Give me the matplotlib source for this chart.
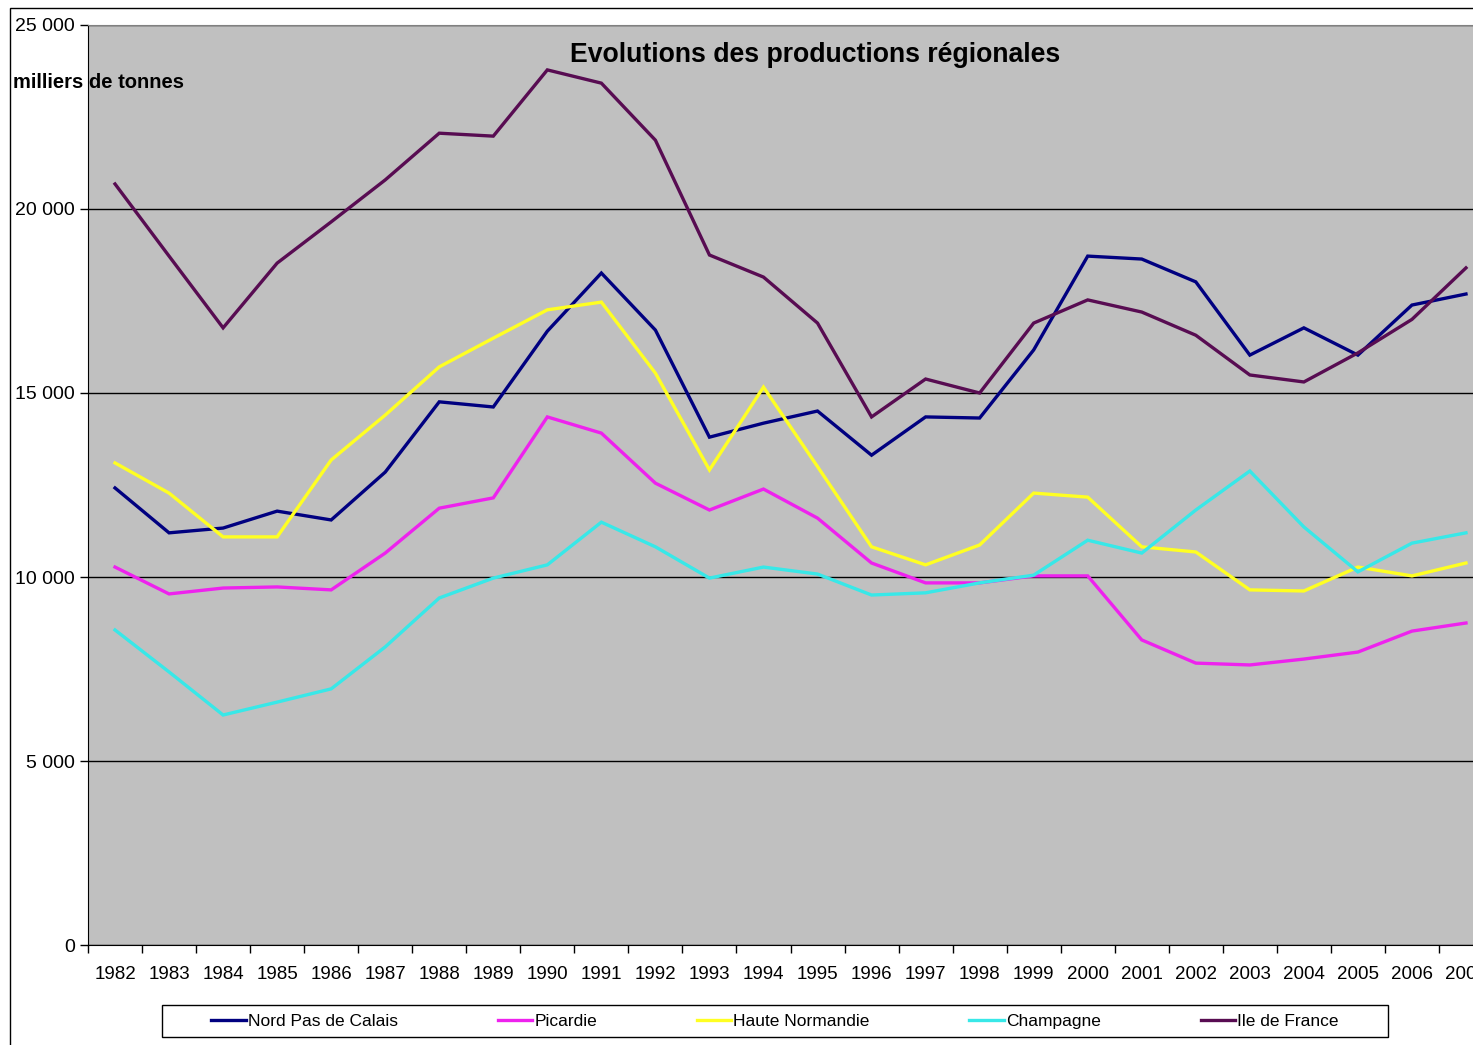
import numpy as np
import matplotlib.pyplot as plt
from matplotlib.patches import Rectangle
from matplotlib.ticker import FuncFormatter, FixedLocator

plt.rcParams['font.family'] = ['Liberation Sans', 'DejaVu Sans']

years = [str(y) for y in range(1982, 2008)]

nord_pas_de_calais = [12420, 11200, 11330, 11790, 11550, 12850, 14760, 14620, 16680, 18260,
                      16710, 13800, 14180, 14510, 13310, 14350, 14320, 16170, 18720, 18640,
                      18020, 16030, 16770, 16030, 17390, 17690]
picardie = [10270, 9540, 9700, 9730, 9650, 10650, 11870, 12150, 14350, 13910,
            12550, 11820, 12390, 11600, 10380, 9840, 9840, 10030, 10030, 8290,
            7660, 7610, 7770, 7960, 8530, 8750]
haute_normandie = [13100, 12280, 11090, 11090, 13180, 14400, 15710, 16490, 17260, 17470,
                   15540, 12910, 15160, 13000, 10820, 10330, 10870, 12280, 12170, 10820,
                   10680, 9650, 9620, 10270, 10030, 10380]
champagne = [8560, 7420, 6250, 6600, 6960, 8100, 9430, 9970, 10330, 11490,
             10820, 9970, 10270, 10080, 9510, 9570, 9840, 10050, 11000, 10650,
             11820, 12880, 11360, 10140, 10920, 11200]
ile_de_france = [20680, 18720, 16770, 18530, 19650, 20790, 22060, 21980, 23780, 23420,
                 21870, 18750, 18150, 16900, 14350, 15380, 15000, 16900, 17530, 17200,
                 16570, 15490, 15300, 16090, 17000, 18400]

series = [
    ("Nord Pas de Calais", nord_pas_de_calais, "#000080"),
    ("Picardie", picardie, "#EE22EE"),
    ("Haute Normandie", haute_normandie, "#FFFF22"),
    ("Champagne", champagne, "#38E8E8"),
    ("Ile de France", ile_de_france, "#580C52"),
]

W, H = 1473, 1045
fig = plt.figure(figsize=(W / 100, H / 100), dpi=100)

# outer chart border (cut at right and bottom)
fig.patches.append(Rectangle((10 / W, -0.1), 2, 1.1 - 8 / H, transform=fig.transFigure,
                             fill=False, edgecolor="black", linewidth=1, clip_on=False))

ax = fig.add_axes([88 / W, (H - 945) / H, 1405 / W, 920 / H])
ax.set_facecolor("#C0C0C0")

x = np.arange(len(years))
for name, vals, col in series:
    ax.plot(x, vals, color=col, linewidth=2.4, label=name, solid_joinstyle="miter")

ax.set_xlim(-0.5, len(years) - 0.5)
ax.set_ylim(0, 25000)
ax.set_yticks(np.arange(0, 25001, 5000))
ax.yaxis.set_major_formatter(FuncFormatter(lambda v, p: f"{int(v):,}".replace(",", " ")))
ax.grid(axis="y", color="black", linewidth=1)
ax.set_axisbelow(True)

ax.set_xticks(x)
ax.set_xticklabels(years)
ax.xaxis.set_minor_locator(FixedLocator(np.arange(-0.5, len(years), 1)))
ax.tick_params(axis="x", which="major", length=0, pad=15, labelsize=13.5)
ax.tick_params(axis="x", which="minor", length=6, width=1)
ax.tick_params(axis="y", length=6, width=1, pad=3.5, labelsize=14)

ax.spines["right"].set_visible(False)
ax.spines["top"].set_color("#808080")
for s in ("left", "bottom"):
    ax.spines[s].set_color("black")

fig.text(815 / W, 1 - 55 / H, "Evolutions des productions régionales", ha="center", va="center",
         fontsize=19.2, fontweight="bold")
fig.text(13 / W, 1 - 83 / H, "milliers de tonnes", ha="left", va="center",
         fontsize=14.5, fontweight="bold")

# legend box drawn separately, entries spread like the original
fig.patches.append(Rectangle((162 / W, 1 - 1037 / H), 1226 / W, 32 / H, transform=fig.transFigure,
                             facecolor="white", edgecolor="black", linewidth=1))
leg = fig.legend(loc="center", bbox_to_anchor=(775 / W, 1 - 1021 / H), ncol=5,
                 frameon=False, fontsize=12.5, handlelength=2.0,
                 handletextpad=0.1, columnspacing=5.75, borderpad=0.35)

fig.savefig("out.png", dpi=100)
